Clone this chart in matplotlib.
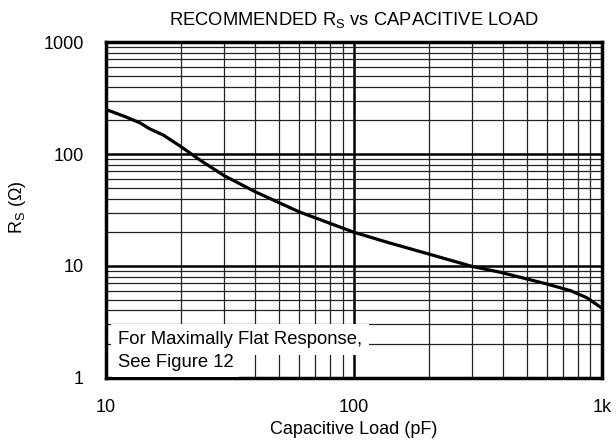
import matplotlib
matplotlib.use("Agg")
import matplotlib.pyplot as plt
from matplotlib.ticker import LogLocator, FixedLocator, NullFormatter

# curve (pF, ohm)
cap_pf = [10, 12, 13.7, 15, 17, 20, 24, 30, 40, 60, 100, 140, 200, 300, 388, 600, 750, 870, 1000]
rs_ohm = [250, 215, 190, 168, 148, 117, 88, 64, 46, 30.5, 20.0, 16.0, 12.8, 9.9, 8.8, 6.9, 6.0, 5.2, 4.2]

x_ticks = [10, 100, 1000]
x_ticklabels = ["10", "100", "1k"]
y_ticks = [1, 10, 100, 1000]
y_ticklabels = ["1", "10", "100", "1000"]

plt.rcParams['font.family'] = ['Liberation Sans', 'DejaVu Sans']

fig = plt.figure(figsize=(6.16, 4.43), dpi=100)
ax = fig.add_axes([0.172, 0.147, 0.805, 0.758])

ax.set_xscale('log')
ax.set_yscale('log')
ax.set_xlim(10, 1000)
ax.set_ylim(1, 1000)

ax.grid(True, which='major', color='black', linewidth=1.8)
ax.grid(True, which='minor', color='#222222', linewidth=0.9)
ax.xaxis.set_minor_locator(LogLocator(base=10, subs=range(2, 10)))
ax.yaxis.set_minor_locator(LogLocator(base=10, subs=range(2, 10)))
ax.xaxis.set_minor_formatter(NullFormatter())
ax.yaxis.set_minor_formatter(NullFormatter())

ax.plot(cap_pf, rs_ohm, color='black', linewidth=2.3, zorder=5)

ax.xaxis.set_major_locator(FixedLocator(x_ticks))
ax.set_xticklabels(x_ticklabels)
ax.yaxis.set_major_locator(FixedLocator(y_ticks))
ax.set_yticklabels(y_ticklabels)
ax.tick_params(which='both', length=0, labelsize=13)
ax.tick_params(axis='x', pad=15)
ax.tick_params(axis='y', pad=16)

for s in ax.spines.values():
    s.set_linewidth(2.5)

fig.text(354 / 616, 1 - 20 / 443, "RECOMMENDED R$_\\mathregular{S}$ vs CAPACITIVE LOAD",
         fontsize=13.2, ha='center', va='center')
fig.text(354 / 616, 1 - 430 / 443, "Capacitive Load (pF)", fontsize=13, ha='center', va='center')
fig.text(18 / 616, 1 - 207 / 443, "R$_\\mathregular{S}$ (Ω)", fontsize=13, ha='center', va='center',
         rotation=90)

# note box in the lower left
ax.text(0.024, 0.113, "For Maximally Flat Response,", transform=ax.transAxes,
        fontsize=13.3, va='center', ha='left', zorder=6,
        bbox=dict(facecolor='white', edgecolor='none', pad=5))
ax.text(0.024, 0.045, "See Figure 12", transform=ax.transAxes,
        fontsize=13.3, va='center', ha='left', zorder=6,
        bbox=dict(facecolor='white', edgecolor='none', pad=4))

fig.savefig("out.png", dpi=100)
